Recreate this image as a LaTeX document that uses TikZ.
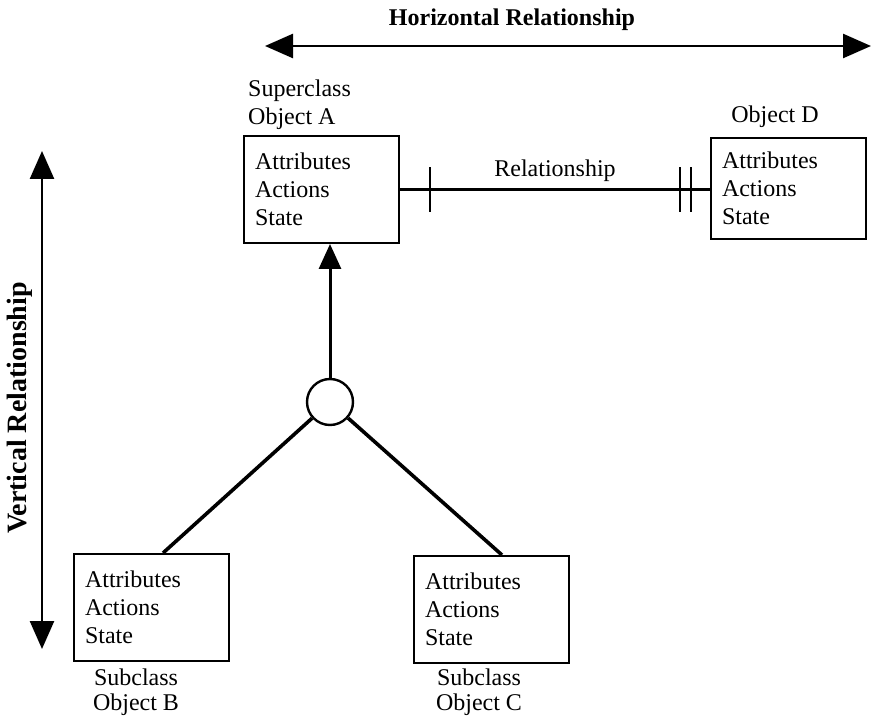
\documentclass[tikz,border=0pt]{standalone}
\usepackage{fontspec}
\setmainfont{Liberation Serif}
\usetikzlibrary{arrows.meta,positioning}

\tikzset{
	objbox/.style={draw, line width=2pt, anchor=north west, align=left,
		text width=133pt, inner xsep=11pt, minimum height=107pt},
	lbl/.style={align=center, inner sep=0pt},
	axislbl/.style={font=\fontsize{24}{28}\selectfont\bfseries, inner sep=0pt},
	axisarrow/.style={{Triangle[length=28pt,width=24pt]}-{Triangle[length=28pt,width=24pt]}, line width=2.6pt},
	link/.style={line width=3.6pt},
	tick/.style={line width=2.2pt},
}

\begin{document}
\begin{tikzpicture}[x=1pt,y=-1pt,font=\fontsize{24}{28}\selectfont]

	\useasboundingbox (0,0) rectangle (871,719);

	% axes
	\coordinate (hL) at (265,46);
	\coordinate (hR) at (871,46);
	\draw[axisarrow] (hL) -- (hR);
	\node[axislbl] (hlabel) at (512,20) {Horizontal Relationship};

	\coordinate (vT) at (42,151);
	\coordinate (vB) at (42,649);
	\draw[axisarrow] (vT) -- (vB);
	\node[axislbl, rotate=90, font=\fontsize{28}{32}\selectfont\bfseries] (vlabel) at (20,408) {Vertical Relationship};

	% objects
	\node[objbox] (boxA) at (243,135) {Attributes\\Actions\\State};
	\node[objbox, minimum height=101pt] (boxD) at (710,137) {Attributes\\Actions\\State};
	\node[objbox] (boxB) at (73,553) {Attributes\\Actions\\State};
	\node[objbox] (boxC) at (413,555) {Attributes\\Actions\\State};

	\node[lbl, align=left, anchor=south west] (nameA) at (248,130) {Superclass\\Object A};
	\node[lbl, anchor=south] (nameD) at (775,128) {Object D};
	\node[lbl, anchor=north, font=\fontsize{24}{25}\selectfont] (nameB) at (136,669) {Subclass\\Object B};
	\node[lbl, anchor=north, font=\fontsize{24}{25}\selectfont] (nameC) at (479,669) {Subclass\\Object C};

	% relationship A -- D
	\draw[tick] (boxA.east) -- node[above=7pt, inner sep=0pt] (rlabel) {Relationship} (boxA.east -| boxD.west);
	\draw[tick] ([xshift=30pt]boxA.east) ++(0,-22) -- ++(0,45);
	\draw[tick] ([xshift=-30pt]boxD.west |- boxA.east) ++(0,-22) -- ++(0,45);
	\draw[tick] ([xshift=-19pt]boxD.west |- boxA.east) ++(0,-22) -- ++(0,45);

	% inheritance
	\node[draw, circle, line width=2.4pt, minimum size=46pt, inner sep=0pt] (isa) at (330,402) {};
	\draw[link, line width=3pt, -{Triangle[length=25pt,width=22pt]}] (isa.north) -- (isa |- boxA.south);
	\draw[link] (isa) -- ([xshift=90pt]boxB.north west);
	\draw[link] (isa) -- ([xshift=89pt]boxC.north west);

\end{tikzpicture}
\end{document}
